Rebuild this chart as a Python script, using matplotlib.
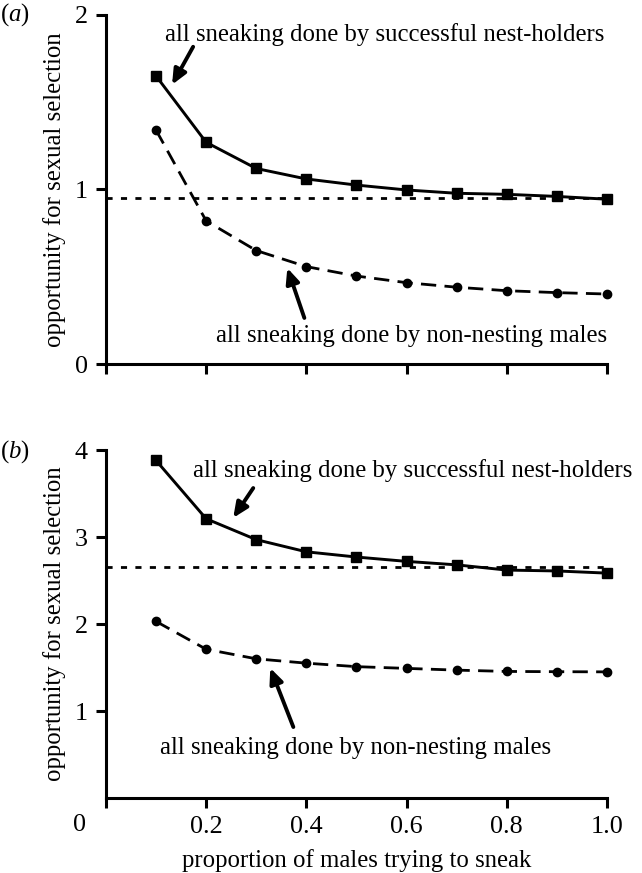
import matplotlib
matplotlib.use('Agg')
import matplotlib.pyplot as plt

plt.rcParams['font.family'] = ['Liberation Serif', 'DejaVu Serif']
plt.rcParams['mathtext.fontset'] = 'custom'
plt.rcParams['mathtext.rm'] = 'Liberation Serif'
plt.rcParams['mathtext.it'] = 'Liberation Serif:italic'

x = [0.1, 0.2, 0.3, 0.4, 0.5, 0.6, 0.7, 0.8, 0.9, 1.0]

# panel (a)
a_nest = [1.65, 1.27, 1.12, 1.06, 1.025, 0.997, 0.978, 0.972, 0.96, 0.944]
a_non = [1.34, 0.82, 0.65, 0.558, 0.504, 0.466, 0.44, 0.42, 0.409, 0.401]
a_ref = 0.95

# panel (b)
b_nest = [3.88, 3.21, 2.97, 2.83, 2.77, 2.72, 2.68, 2.62, 2.61, 2.585]
b_non = [2.03, 1.71, 1.60, 1.55, 1.51, 1.49, 1.47, 1.455, 1.452, 1.45]
b_ref = 2.66

xticks = [0, 0.2, 0.4, 0.6, 0.8, 1.0]
xticklabels = ['', '0.2', '0.4', '0.6', '0.8', '1.0']

txt_nest = 'all sneaking done by successful nest-holders'
txt_non = 'all sneaking done by non-nesting males'
ylab = 'opportunity for sexual selection'
xlab = 'proportion of males trying to sneak'

fs = 17.8

fig = plt.figure(figsize=(6.42, 8.73), dpi=100)
ax1 = fig.add_axes([0.165, 0.583, 0.7805, 0.400])
ax2 = fig.add_axes([0.165, 0.0859, 0.7805, 0.3986])


def style(ax, ymax, yticks):
    ax.set_xlim(0, 1.0)
    ax.set_ylim(0, ymax)
    for s in ['top', 'right']:
        ax.spines[s].set_visible(False)
    for s in ['left', 'bottom']:
        ax.spines[s].set_linewidth(2.2)
    ax.tick_params(direction='out', length=7, width=2.2, labelsize=fs + 1, pad=6)
    ax.set_yticks(yticks)
    ax.set_xticks(xticks)
    ax.set_ylabel(ylab, fontsize=fs, labelpad=6)


def draw(ax, nest, non, ref):
    ax.plot([0, 1.0], [ref, ref], color='black', lw=2.0, dashes=(2.2, 3.0))
    ax.plot(x, nest, color='black', lw=2.1, marker='s', ms=7, clip_on=False)
    ax.plot(x, non, color='black', lw=2.0, dashes=(5.5, 3.0), marker='o', ms=6,
            clip_on=False)


arrow = dict(arrowstyle='-|>,head_length=0.9,head_width=0.4', lw=2.8,
             color='black', shrinkA=0, shrinkB=0)

style(ax1, 2, [0, 1, 2])
draw(ax1, a_nest, a_non, a_ref)
ax1.set_xticklabels([''] * len(xticks))
ax1.text(0.118, 1.885, txt_nest, fontsize=fs, va='center', ha='left')
ax1.text(1.0, 0.16, txt_non, fontsize=fs, va='center', ha='right')
ax1.annotate('', xy=(0.132, 1.60), xytext=(0.174, 1.817), arrowprops=arrow)
ax1.annotate('', xy=(0.362, 0.55), xytext=(0.396, 0.264), arrowprops=arrow)

style(ax2, 4, [1, 2, 3, 4])
draw(ax2, b_nest, b_non, b_ref)
ax2.set_xticklabels(xticklabels)
ax2.text(-0.052, -0.31, '0', fontsize=fs + 1, va='center', ha='center')
ax2.text(0.174, 3.77, txt_nest, fontsize=fs, va='center', ha='left', clip_on=False)
ax2.text(0.108, 0.575, txt_non, fontsize=fs, va='center', ha='left')
ax2.annotate('', xy=(0.254, 3.22), xytext=(0.294, 3.563), arrowprops=arrow)
ax2.annotate('', xy=(0.328, 1.494), xytext=(0.374, 0.816), arrowprops=arrow)
ax2.set_xlabel(xlab, fontsize=fs, labelpad=8)

fig.text(0.0, 1 - 15 / 873, r'($\it{a}$)', fontsize=fs, va='center', ha='left')
fig.text(0.0, 1 - 452 / 873, r'($\it{b}$)', fontsize=fs, va='center', ha='left')

fig.savefig('out.png', dpi=100)
